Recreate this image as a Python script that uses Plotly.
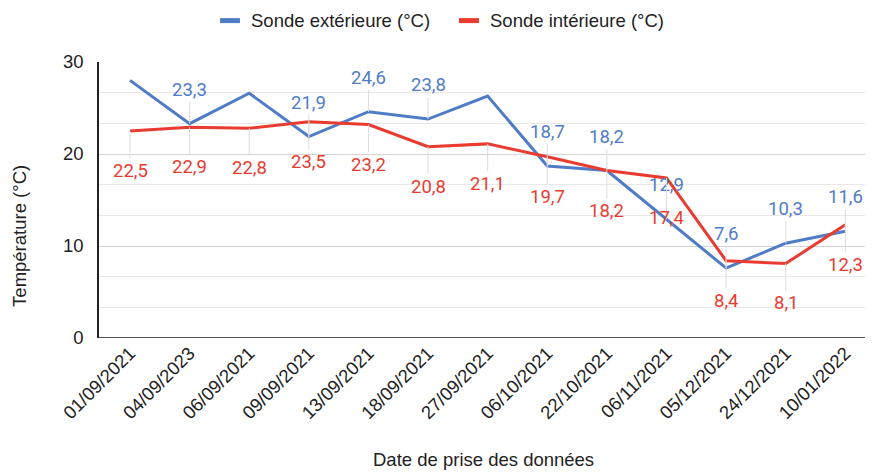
import plotly.graph_objects as go

dates = ["01/09/2021", "04/09/2023", "06/09/2021", "09/09/2021", "13/09/2021",
         "18/09/2021", "27/09/2021", "06/10/2021", "22/10/2021", "06/11/2021",
         "05/12/2021", "24/12/2021", "10/01/2022"]
ext_name = "Sonde extérieure (°C)"
int_name = "Sonde intérieure (°C)"
ext_values = [28.0, 23.3, 26.6, 21.9, 24.6, 23.8, 26.3, 18.7, 18.2, 12.9, 7.6, 10.3, 11.6]
int_values = [22.5, 22.9, 22.8, 23.5, 23.2, 20.8, 21.1, 19.7, 18.2, 17.4, 8.4, 8.1, 12.3]
ext_label_shown = [False, True, False, True, True, True, False, True, True, True, True, True, True]
int_label_shown = [True] * 13
y_ticks = [0, 10, 20, 30]
x_title = "Date de prise des données"
y_title = "Température (°C)"

BLUE = "#4f7cc6"
RED = "#ea3b30"
NUMFONT = "Roboto, Arial, sans-serif"
TXTFONT = "Arial, 'Liberation Sans', sans-serif"
FS = 18.5

x_idx = list(range(len(dates)))

fig = go.Figure()
fig.add_trace(go.Scatter(x=x_idx, y=ext_values, mode="lines", name=ext_name,
                         line=dict(color=BLUE, width=3), showlegend=False))
fig.add_trace(go.Scatter(x=x_idx, y=int_values, mode="lines", name=int_name,
                         line=dict(color=RED, width=3), showlegend=False))

def fmt(v):
    return f"{v:.1f}".replace(".", ",")

annotations = []
for i, (v, s) in enumerate(zip(ext_values, ext_label_shown)):
    if s:
        annotations.append(dict(x=i, y=v, xref="x", yref="y", text=fmt(v),
                                showarrow=True, arrowhead=0, arrowwidth=1,
                                arrowcolor="#dcdcdc", ax=0, ay=-34,
                                font=dict(family=NUMFONT, size=FS, color=BLUE)))
for i, (v, s) in enumerate(zip(int_values, int_label_shown)):
    if s:
        annotations.append(dict(x=i, y=v, xref="x", yref="y", text=fmt(v),
                                showarrow=True, arrowhead=0, arrowwidth=1,
                                arrowcolor="#dcdcdc", ax=0, ay=40,
                                font=dict(family=NUMFONT, size=FS, color=RED)))

# axis titles
annotations.append(dict(x=0.5026, y=-0.442, xref="paper", yref="paper", text=x_title,
                        showarrow=False, xanchor="center", yanchor="middle",
                        font=dict(family=TXTFONT, size=FS, color="#222")))
annotations.append(dict(x=-0.1031, y=0.370, xref="paper", yref="paper", text=y_title,
                        showarrow=False, textangle=-90, xanchor="center", yanchor="middle",
                        font=dict(family=TXTFONT, size=FS, color="#222")))

# manual legend
shapes = []
legend_items = [(ext_name, BLUE, 0.158, 0.196), (int_name, RED, 0.470, 0.508)]
for name, col, sx, tx in legend_items:
    shapes.append(dict(type="line", xref="paper", yref="paper",
                       x0=sx, x1=sx + 0.026, y0=1.150, y1=1.150,
                       line=dict(color=col, width=5)))
    annotations.append(dict(x=tx, y=1.150, xref="paper", yref="paper", text=name,
                            showarrow=False, xanchor="left", yanchor="middle",
                            font=dict(family=TXTFONT, size=FS, color="#222")))

fig.update_layout(
    width=857, height=465,
    margin=dict(l=91, r=0, t=54, b=135, autoexpand=False),
    paper_bgcolor="white", plot_bgcolor="white",
    annotations=annotations, shapes=shapes,
    showlegend=False,
    xaxis=dict(range=[-0.52, 12.33], tickmode="array", tickvals=x_idx,
               ticktext=dates, tickangle=-45, showgrid=False, zeroline=False,
               showline=False, automargin=False,
               tickfont=dict(family=TXTFONT, size=FS, color="#222")),
    yaxis=dict(range=[0, 30], tickmode="array", tickvals=y_ticks,
               showgrid=True, gridcolor="#d4d4d4", gridwidth=1,
               zeroline=False, showline=True, linecolor="#222", linewidth=1.5,
               ticklabelstandoff=10, automargin=False,
               minor=dict(dtick=10 / 3, showgrid=True, gridcolor="#e8e8e8", gridwidth=1),
               tickfont=dict(family=TXTFONT, size=FS, color="#222")),
)
# x axis baseline
fig.add_shape(type="line", xref="paper", yref="y", x0=0, x1=1, y0=0, y1=0,
              line=dict(color="#555", width=2))

fig.write_html("out.html")
